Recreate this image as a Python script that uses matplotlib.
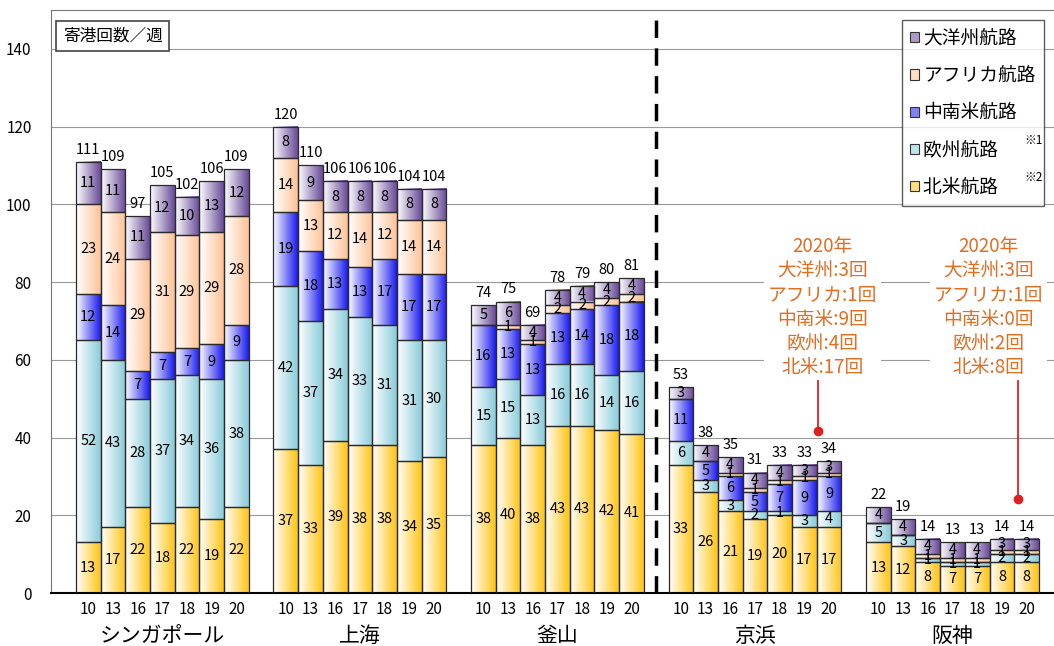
import matplotlib
matplotlib.use("Agg")
import matplotlib.pyplot as plt
import numpy as np
from matplotlib.colors import LinearSegmentedColormap
from matplotlib.patches import Patch

plt.rcParams['font.family'] = ['Noto Sans CJK JP', 'DejaVu Sans']

# ports and years
ports = ['シンガポール', '上海', '釜山', '京浜', '阪神']
years = ['10', '13', '16', '17', '18', '19', '20']

# weekly port calls by route, one list per port (years 10..20)
north_america = [[13, 17, 22, 18, 22, 19, 22],
                 [37, 33, 39, 38, 38, 34, 35],
                 [38, 40, 38, 43, 43, 42, 41],
                 [33, 26, 21, 19, 20, 17, 17],
                 [13, 12, 8, 7, 7, 8, 8]]
europe = [[52, 43, 28, 37, 34, 36, 38],
          [42, 37, 34, 33, 31, 31, 30],
          [15, 15, 13, 16, 16, 14, 16],
          [6, 3, 3, 2, 1, 3, 4],
          [5, 3, 1, 1, 1, 2, 2]]
latin_america = [[12, 14, 7, 7, 7, 9, 9],
                 [19, 18, 13, 13, 17, 17, 17],
                 [16, 13, 13, 13, 14, 18, 18],
                 [11, 5, 6, 5, 7, 9, 9],
                 [0, 0, 0, 0, 0, 0, 0]]
africa = [[23, 24, 29, 31, 29, 29, 28],
          [14, 13, 12, 14, 12, 14, 14],
          [0, 1, 1, 2, 2, 2, 2],
          [0, 0, 1, 1, 1, 1, 1],
          [0, 0, 1, 1, 1, 1, 1]]
oceania = [[11, 11, 11, 12, 10, 13, 12],
           [8, 9, 8, 8, 8, 8, 8],
           [5, 6, 4, 4, 4, 4, 4],
           [3, 4, 4, 4, 4, 3, 3],
           [4, 4, 4, 4, 4, 3, 3]]

series = [('北米航路', north_america, '#FFC414'),
          ('欧州航路', europe, '#8ACCDA'),
          ('中南米航路', latin_america, '#1A1AF0'),
          ('アフリカ航路', africa, '#FFC397'),
          ('大洋州航路', oceania, '#684A98')]

note_keihin = '2020年\n大洋州:3回\nアフリカ:1回\n中南米:9回\n欧州:4回\n北米:17回'
note_hanshin = '2020年\n大洋州:3回\nアフリカ:1回\n中南米:0回\n欧州:2回\n北米:8回'

fig = plt.figure(figsize=(10.54, 6.46), dpi=100)
ax = fig.add_axes([51 / 1054, 53 / 646, 1 - 51 / 1054, 583 / 646])

group_step = 8
x = np.array([g * group_step + i for g in range(len(ports)) for i in range(len(years))])

bottom = np.zeros(len(x))
for name, data, color in series:
    vals = np.array(data).ravel()
    bars = ax.bar(x, vals, width=1.0, bottom=bottom, facecolor='none',
                  edgecolor='#2a2a2a', linewidth=0.9, zorder=3)
    cmap = LinearSegmentedColormap.from_list(name, ['#ffffff', color])
    grad = np.linspace(0, 1, 64).reshape(1, -1)
    for p, v in zip(bars.patches, vals):
        if v <= 0:
            continue
        x0, y0 = p.get_xy()
        ax.imshow(grad, cmap=cmap, extent=(x0, x0 + p.get_width(), y0, y0 + p.get_height()),
                  aspect='auto', zorder=2, interpolation='bilinear')
        ax.text(x0 + 0.5, y0 + v / 2, str(v), ha='center', va='center',
                fontsize=10.5, zorder=4)
    bottom += vals

for xi, tot in zip(x, bottom):
    ax.text(xi, tot + 1.3, str(int(tot)), ha='center', va='bottom', fontsize=10.5)

ax.set_xlim(-1.51, 39.11)
ax.set_ylim(0, 150)
ax.set_yticks(range(0, 141, 20))
ax.set_xticks(x)
ax.set_xticklabels(years * len(ports), fontsize=11)
ax.tick_params(axis='both', length=0, labelsize=11)
ax.tick_params(axis='x', pad=6)
ax.tick_params(axis='y', pad=14)
ax.yaxis.grid(True, color='#999999', linewidth=0.8, zorder=0)
ax.set_axisbelow(True)
for s in ['top', 'left']:
    ax.spines[s].set_color('#777777')
ax.spines['right'].set_visible(False)
ax.spines['bottom'].set_linewidth(1.5)

trans = ax.get_xaxis_transform()
for g, port in enumerate(ports):
    ax.text(g * group_step + 3, -0.074, port, transform=trans, ha='center',
            va='center', fontsize=15)

# separator between foreign and Japanese ports
ax.axvline(2 * group_step + 7, color='black', linewidth=2.5, linestyle=(0, (5, 3)), zorder=5)

ax.text(0.012, 0.955, '寄港回数／週', transform=ax.transAxes, fontsize=12, va='center',
        bbox=dict(boxstyle='square,pad=0.4', facecolor='white', edgecolor='#444444', linewidth=1.2))

# 2020 notes
for tx, lx, ly, note in [(29.72, 29.56, 41.7, note_keihin), (36.44, 37.66, 24.2, note_hanshin)]:
    ax.text(tx, 73.5, note, ha='center', va='center', color='#E36C22', fontsize=13.5,
            linespacing=1.2, zorder=6,
            bbox=dict(boxstyle='square,pad=0.2', facecolor='white', edgecolor='none'))
    ax.plot([lx, lx], [ly, 54.5], color='#E02020', linewidth=1.3, zorder=6)
    ax.plot([lx], [ly], 'o', color='#E02020', markersize=6, zorder=6)

handles = []
for name, data, color in series[::-1]:
    mid = tuple(0.45 + 0.55 * c for c in matplotlib.colors.to_rgb(color))
    handles.append(Patch(facecolor=mid, edgecolor='#333333', linewidth=0.8,
                         label=name + ('\u3000' if name in ('欧州航路', '北米航路') else '')))
leg = ax.legend(handles=handles, loc='upper right', bbox_to_anchor=(0.994, 0.99),
                fontsize=13.5, frameon=True, fancybox=False, edgecolor='#333333',
                handlelength=0.45, handleheight=0.45, handletextpad=0.25,
                labelspacing=0.86, borderpad=0.45, borderaxespad=0.2)
leg.get_frame().set_linewidth(1.0)
leg.set_zorder(7)
fig.text(1034 / 1054, 1 - 140 / 646, '※1', fontsize=8.5, ha='center', va='center')
fig.text(1034 / 1054, 1 - 177 / 646, '※2', fontsize=8.5, ha='center', va='center')

fig.savefig('out.png', dpi=100)
